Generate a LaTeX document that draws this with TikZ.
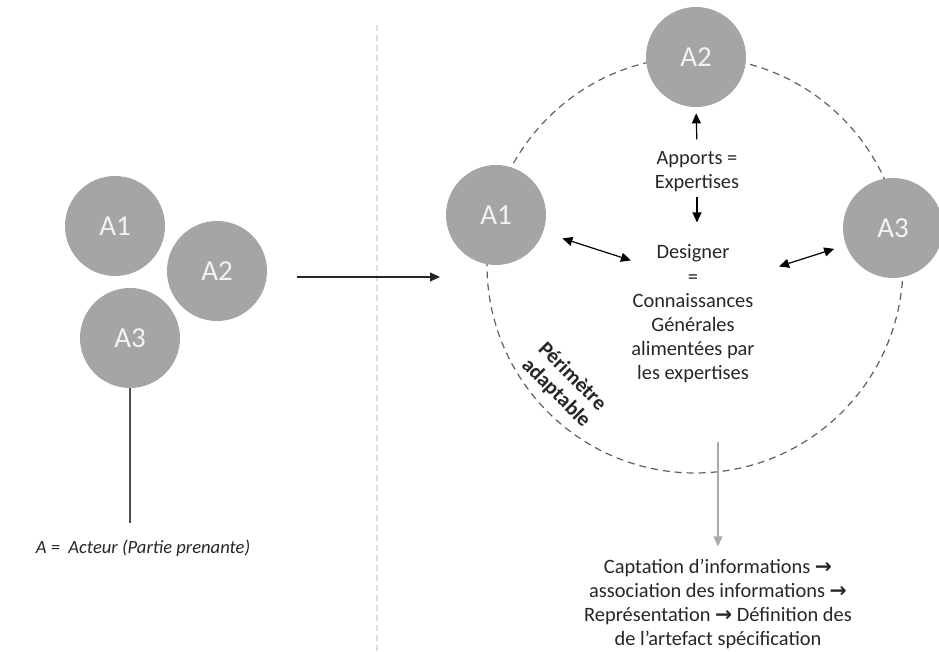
\documentclass[tikz,border=0pt]{standalone}
\usepackage{fontspec}
\setmainfont{Carlito}
\newfontfamily\arrowfont{DejaVu Sans}
\usetikzlibrary{positioning,arrows.meta,calc}
\newcommand{\fl}{{\arrowfont\bfseries\char"2192}}
\definecolor{actfill}{RGB}{166,164,164}
\definecolor{acttext}{RGB}{243,243,243}
\definecolor{perimline}{RGB}{95,95,95}
\definecolor{sepline}{RGB}{222,222,222}
\definecolor{outline}{RGB}{170,170,170}

\begin{document}
\begin{tikzpicture}[x=0.5pt,y=-0.5pt,font=\fontsize{10.2}{12.1}\selectfont,
   actor/.style={circle,fill=actfill,minimum size=50pt,inner sep=0pt,text=acttext,
                 font=\fontsize{14.5}{17}\selectfont},
   txt/.style={align=center,inner sep=2pt,text=black!85},
   ar/.style={-{Triangle[length=5pt,width=4.5pt]},line width=0.6pt},
   dar/.style={{Triangle[length=5pt,width=4.5pt]}-{Triangle[length=5pt,width=4.5pt]},
               line width=0.6pt}]
\useasboundingbox (0,0) rectangle (939,652);

% separator
\draw[sepline,dash pattern=on 3pt off 2pt,line width=0.6pt] (377,25) -- (377,652);

% actors, before
\node[actor] (a1l) at (115,226) {A1};
\node[actor] (a2l) at (217,271) {A2};
\node[actor] (a3l) at (130,338) {A3};
\node[font=\fontsize{9.3}{11}\selectfont\itshape,text=black!85] (legend) at (143,548)
   {A =\ \ Acteur (Partie prenante)};
\draw[line width=0.6pt,black!70,shorten >=5pt] (a3l.south) -- (legend.north -| a3l.south);

% passage
\coordinate (perim) at (440,277);
\draw[ar,black!85,shorten <=15pt] (a2l.east |- perim) -- (perim);

% adaptable perimeter
\draw[perimline,dash pattern=on 3.5pt off 2.5pt,line width=0.6pt] (695,265) circle [radius=104pt];
\node[txt,font=\fontsize{10.5}{11.5}\selectfont\bfseries,rotate=-45] (perilab) at (564,385)
   {Périmètre\\adaptable};

% actors, after
\node[actor] (a2r) at (696,57) {A2};
\node[actor] (a1r) at (496,215) {A1};
\node[actor] (a3r) at (893,228) {A3};

% designer
\node[txt] (apports) at (697,172) {Apports =\\Expertises};
\node[txt] (des) at (693,314)
   {Designer\\=\\Connaissances\\Générales\\alimentées par\\les expertises};
\draw[ar,shorten <=4pt,shorten >=3pt] (apports.north) -- (a2r.south);
\draw[ar,shorten >=9pt] (apports.south) -- (des.north -| apports.south);
\draw[dar,shorten <=10pt,shorten >=0pt] (a1r.-20) -- ($(des.north west)+(4,20)$);
\draw[dar,shorten <=0pt,shorten >=6pt] ($(des.north east)+(20,26)$) -- (a3r.200);

% outcome
\node[txt] (outcome) at (718,604)
   {Captation d’informations \fl\\association des informations \fl\\
    Représentation \fl{} Définition des\\de l’artefact spécification};
\draw[ar,outline,shorten <=27pt,shorten >=4pt] (des.south -| outcome.north) -- (outcome.north);
\end{tikzpicture}
\end{document}
